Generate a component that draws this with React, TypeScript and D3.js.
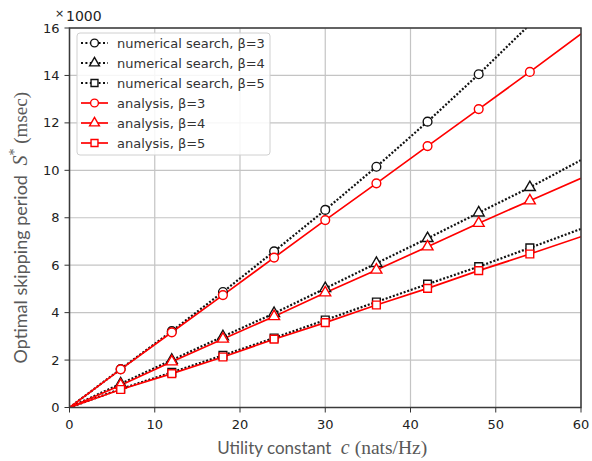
import React, { useEffect, useRef } from 'react';
import * as d3 from 'd3';

// utility constant c (nats/Hz)
const utility = [0, 6, 12, 18, 24, 30, 36, 42, 48, 54, 60];

// optimal skipping period, in units of 1000 msec
const numericalB3 = [0, 1.62, 3.22, 4.87, 6.58, 8.33, 10.15, 12.05, 14.05, 16.15];
const numericalB4 = [0, 1.0, 2.0, 2.99, 3.97, 5.02, 6.08, 7.13, 8.21, 9.28, 10.43];
const numericalB5 = [0, 0.78, 1.48, 2.2, 2.93, 3.69, 4.45, 5.2, 5.94, 6.73, 7.53];
const analysisB3 = [0, 1.61, 3.17, 4.74, 6.32, 7.9, 9.45, 11.02, 12.58, 14.15, 15.75];
const analysisB4 = [0, 0.94, 1.93, 2.89, 3.84, 4.84, 5.8, 6.78, 7.77, 8.72, 9.66];
const analysisB5 = [0, 0.76, 1.43, 2.13, 2.88, 3.58, 4.32, 5.02, 5.77, 6.47, 7.2];

const xTicks = [0, 10, 20, 30, 40, 50, 60];
const yTicks = [0, 2, 4, 6, 8, 10, 12, 14, 16];

const SERIES = [
  { name: 'numerical search, β=3', values: numericalB3, marker: 'circle', color: '#111', dotted: true },
  { name: 'numerical search, β=4', values: numericalB4, marker: 'triangle', color: '#111', dotted: true },
  { name: 'numerical search, β=5', values: numericalB5, marker: 'square', color: '#111', dotted: true },
  { name: 'analysis, β=3', values: analysisB3, marker: 'circle', color: '#ff0000', dotted: false },
  { name: 'analysis, β=4', values: analysisB4, marker: 'triangle', color: '#ff0000', dotted: false },
  { name: 'analysis, β=5', values: analysisB5, marker: 'square', color: '#ff0000', dotted: false },
];

const W = 592;
const H = 461;
const plot = { left: 69.5, right: 581, top: 28, bottom: 407.5 };

const symbolPath = (kind: string, k = 1) => {
  if (kind === 'circle') return d3.symbol().type(d3.symbolCircle).size(60 * k)()!;
  if (kind === 'triangle') return d3.symbol().type(d3.symbolTriangle).size(52 * k)()!;
  return d3.symbol().type(d3.symbolSquare).size(60 * k)()!;
};

const App: React.FC = () => {
  const svgRef = useRef<SVGSVGElement>(null);

  useEffect(() => {
    if (!svgRef.current) return;
    const svg = d3.select(svgRef.current);
    svg.selectAll('*').remove();

    const x = d3.scaleLinear().domain([0, 60]).range([plot.left, plot.right]);
    const y = d3.scaleLinear().domain([0, 16]).range([plot.bottom, plot.top]);

    svg.append('defs').append('clipPath').attr('id', 'plotclip')
      .append('rect')
      .attr('x', plot.left).attr('y', plot.top)
      .attr('width', plot.right - plot.left).attr('height', plot.bottom - plot.top);

    // grid
    const grid = svg.append('g');
    grid.selectAll('.gx').data(xTicks).enter().append('line')
      .attr('x1', d => x(d)).attr('x2', d => x(d))
      .attr('y1', plot.top).attr('y2', plot.bottom)
      .attr('stroke', '#c4c4c4').attr('stroke-width', 1.2);
    grid.selectAll('.gy').data(yTicks).enter().append('line')
      .attr('y1', d => y(d)).attr('y2', d => y(d))
      .attr('x1', plot.left).attr('x2', plot.right)
      .attr('stroke', '#c4c4c4').attr('stroke-width', 1.2);

    // series
    const g = svg.append('g').attr('clip-path', 'url(#plotclip)');
    SERIES.forEach(s => {
      const pts = s.values.map((v, i) => [utility[i], v] as [number, number]);
      const line = d3.line<[number, number]>().x(d => x(d[0])).y(d => y(d[1]));
      g.append('path')
        .attr('d', line(pts))
        .attr('fill', 'none')
        .attr('stroke', s.color)
        .attr('stroke-width', s.dotted ? 2.2 : 1.7)
        .attr('stroke-dasharray', s.dotted ? '2,1.8' : null);
    });
    SERIES.forEach(s => {
      const pts = s.values
        .map((v, i) => [utility[i], v] as [number, number])
        .filter(d => d[0] > 0 && d[0] < 60 && d[1] <= 16);
      g.selectAll(null).data(pts).enter().append('path')
        .attr('d', symbolPath(s.marker))
        .attr('transform', d => `translate(${x(d[0])},${y(d[1])})`)
        .attr('fill', 'white')
        .attr('stroke', s.color)
        .attr('stroke-width', 1.4);
    });

    // frame
    svg.append('rect')
      .attr('x', plot.left).attr('y', plot.top)
      .attr('width', plot.right - plot.left).attr('height', plot.bottom - plot.top)
      .attr('fill', 'none').attr('stroke', '#3a3a3a').attr('stroke-width', 1.5);

    // ticks
    const ax = svg.append('g').style('font-family', '"DejaVu Sans", sans-serif').style('font-size', '13px');
    ax.selectAll('.tx').data(xTicks).enter().append('line')
      .attr('x1', d => x(d)).attr('x2', d => x(d))
      .attr('y1', plot.bottom).attr('y2', plot.bottom + 5)
      .attr('stroke', '#333');
    ax.selectAll('.lx').data(xTicks).enter().append('text')
      .attr('x', d => x(d)).attr('y', plot.bottom + 21)
      .attr('text-anchor', 'middle').attr('fill', '#222')
      .text(d => d);
    ax.selectAll('.ty').data(yTicks).enter().append('line')
      .attr('y1', d => y(d)).attr('y2', d => y(d))
      .attr('x1', plot.left - 5).attr('x2', plot.left)
      .attr('stroke', '#333');
    ax.selectAll('.ly').data(yTicks).enter().append('text')
      .attr('x', plot.left - 10).attr('y', d => y(d)).attr('dy', '0.35em')
      .attr('text-anchor', 'end').attr('fill', '#222')
      .text(d => d);
    svg.append('text').attr('x', 55).attr('y', 17).attr('fill', '#222')
      .style('font-family', '"DejaVu Sans", sans-serif').style('font-size', '11px')
      .text('×');
    svg.append('text').attr('x', 66).attr('y', 21).attr('fill', '#222')
      .style('font-family', '"DejaVu Sans", sans-serif').style('font-size', '14px')
      .text('1000');

    // axis titles
    const xt = svg.append('text')
      .attr('x', (plot.left + plot.right) / 2 - 3).attr('y', 454)
      .attr('text-anchor', 'middle').attr('fill', '#595959')
      .style('font-size', '17px');
    xt.append('tspan').style('font-family', 'Lato, sans-serif').text('Utility constant ');
    xt.append('tspan').style('font-family', '"Liberation Serif", serif').style('font-style', 'italic').style('font-size', '20px').text('\u00a0c\u00a0');
    xt.append('tspan').style('font-family', '"Liberation Serif", serif').style('font-size', '19.5px').text('(nats/Hz)');

    const yt = svg.append('text')
      .attr('transform', `translate(27,${(plot.top + plot.bottom) / 2 + 10}) rotate(-90)`)
      .attr('text-anchor', 'middle').attr('fill', '#595959')
      .style('font-size', '18px');
    yt.append('tspan').style('font-family', 'Lato, sans-serif').text('Optimal skipping period ');
    yt.append('tspan').style('font-family', '"Liberation Serif", serif').style('font-style', 'italic').style('font-size', '20px').text('\u00a0S');
    yt.append('tspan').style('font-family', '"Liberation Serif", serif').attr('dy', -8).style('font-size', '14px').text('*');
    yt.append('tspan').style('font-family', '"Liberation Serif", serif').attr('dy', 8).style('font-size', '19px').text('\u00a0(msec)');

    // legend
    const lg = svg.append('g').attr('transform', 'translate(77,33)');
    lg.append('rect')
      .attr('width', 193).attr('height', 122).attr('rx', 3)
      .attr('fill', 'white').attr('fill-opacity', 0.85)
      .attr('stroke', '#d0d0d0');
    SERIES.forEach((s, i) => {
      const row = lg.append('g').attr('transform', `translate(0,${10 + i * 20})`);
      row.append('line')
        .attr('x1', 4).attr('x2', 31)
        .attr('stroke', s.color)
        .attr('stroke-width', s.dotted ? 2.2 : 1.7)
        .attr('stroke-dasharray', s.dotted ? '2,2.4' : null);
      row.append('path')
        .attr('d', symbolPath(s.marker, 0.8))
        .attr('transform', 'translate(17.5,0)')
        .attr('fill', 'white').attr('stroke', s.color).attr('stroke-width', 1.4);
      row.append('text')
        .attr('x', 40).attr('dy', '0.35em')
        .attr('fill', '#333')
        .style('font-family', '"DejaVu Sans", sans-serif').style('font-size', '13px')
        .text(s.name);
    });
  }, []);

  return (
    <svg ref={svgRef} width={W} height={H}
      style={{ position: 'absolute', left: 0, top: 0, background: 'white' }} />
  );
};

export default App;
